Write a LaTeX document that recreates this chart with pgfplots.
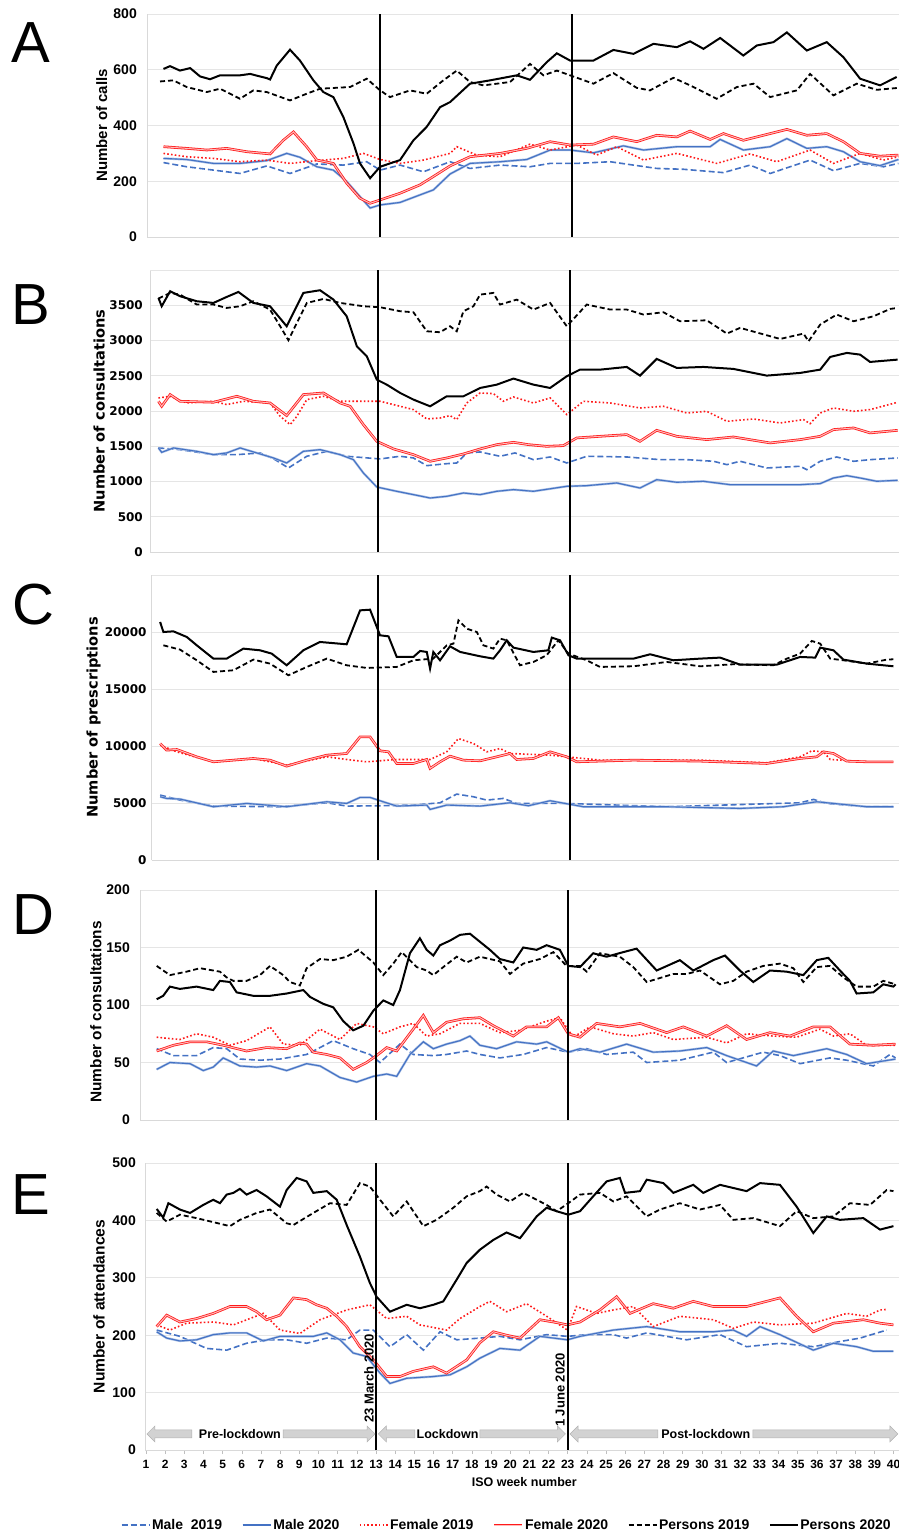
\documentclass[border=0pt]{standalone}
\usepackage{fontspec}
\setmainfont{Liberation Sans}
\newfontfamily\dejavu{DejaVu Sans}
\usepackage{pgfplots}
\pgfplotsset{compat=1.18}
\usetikzlibrary{arrows.meta}
\definecolor{mblue}{HTML}{4472C4}
\definecolor{mred}{HTML}{FF1A1A}
\newcommand{\fs}[1]{\fontsize{#1}{#1}\selectfont}
\tikzset{vl/.style={black, line width=2pt}}
\pgfplotsset{
  panel/.style={
    scale only axis,
    axis x line*=bottom, axis y line*=left,
    axis line style={gray!30, line width=0.8pt},
    ymajorgrids, grid style={gray!20, line width=0.8pt},
    xtick=\empty,
    major tick length=0pt,
    scaled y ticks=false,
    /pgf/number format/assume math mode=true,
    /pgf/number format/1000 sep={},
  },
  m19/.style={mblue, line width=1.6pt, dash pattern=on 6pt off 3pt},
  m20/.style={draw=mblue!45, double=mblue, double distance=1.1pt, line width=0.6pt},
  f19/.style={mred, line width=1.6pt, dash pattern=on 1.6pt off 2.2pt},
  f20/.style={draw=mred, double=mred!30, double distance=1pt, line width=0.8pt},
  p19/.style={black, line width=1.8pt, dash pattern=on 5pt off 3pt},
  p20/.style={black, line width=2pt},
}
\begin{document}
\begin{tikzpicture}
\useasboundingbox (0,0) rectangle (899pt,-1535pt);
% ================= A =================
\begin{axis}[panel, at={(147pt,-14pt)}, anchor=north west, width=752pt, height=223pt,
  xmin=0.84, xmax=40.07, ymin=0, ymax=800, ytick={0,200,...,800},
  yticklabel style={font=\fs{14}\bfseries, anchor=east, inner sep=0pt, xshift=-10pt},
  ylabel={Number of calls}, ylabel style={font=\fs{15}\bfseries, at={(axis description cs:-0.0602,0.5)}, anchor=center}]
\addplot[m19] coordinates {(1.70,267)(2.91,252)(4.30,240)(5.69,228)(7.09,255)(8.30,228)(9.70,262)(11.08,258)(12.30,270)(13.00,240)(14.04,258)(15.26,234)(16.65,270)(17.69,246)(19.26,258)(20.82,252)(21.87,264)(23.26,264)(25.0,270)(27.43,246)(28.82,243)(30.91,231)(32.30,258)(33.35,228)(35.43,276)(36.65,238)(38.04,264)(39.26,252)(40.04,264)};
\addplot[m20] coordinates {(1.70,282)(2.91,278)(4.30,264)(5.69,264)(7.09,274)(8.13,300)(8.82,286)(9.70,252)(10.56,240)(11.26,199)(11.95,145)(12.48,104)(13.00,115)(14.04,124)(15.08,151)(15.78,169)(16.65,226)(17.69,264)(19.26,270)(20.65,278)(21.87,312)(22.91,312)(24.13,302)(25.69,327)(26.74,312)(28.48,324)(30.22,324)(30.74,350)(31.95,312)(33.35,324)(34.22,353)(35.26,318)(36.30,324)(37.17,306)(38.04,270)(39.08,256)(40.04,278)};
\addplot[f19] coordinates {(1.70,300)(2.91,288)(4.30,282)(5.69,270)(7.09,276)(8.30,264)(9.70,274)(11.08,282)(12.13,300)(13.00,278)(14.04,264)(15.26,276)(16.65,300)(17.0,324)(18.04,294)(19.26,288)(20.82,333)(21.87,312)(23.26,330)(24.30,294)(25.35,324)(26.74,276)(28.48,300)(30.56,264)(32.30,298)(33.69,270)(35.43,312)(36.65,264)(38.04,300)(39.26,276)(40.04,288)};
\addplot[f20] coordinates {(1.70,324)(2.91,318)(3.96,312)(5.00,318)(6.04,306)(7.26,298)(7.95,347)(8.48,377)(9.17,324)(9.70,276)(10.56,264)(11.26,193)(11.95,139)(12.48,121)(13.00,133)(14.04,157)(15.08,187)(15.78,217)(16.65,255)(17.69,288)(19.26,300)(20.65,318)(21.87,342)(22.91,330)(24.13,333)(25.17,359)(26.39,342)(27.43,365)(28.48,359)(29.17,380)(30.22,350)(30.91,371)(31.95,347)(33.35,371)(34.22,386)(35.26,365)(36.30,371)(37.17,342)(38.04,300)(39.08,290)(40.04,294)};
\addplot[p19] coordinates {(1.52,558)(2.22,562)(2.91,538)(3.96,520)(4.65,532)(5.69,496)(6.39,526)(7.09,520)(8.30,490)(9.17,514)(9.87,532)(11.43,538)(12.30,568)(13.00,526)(13.52,502)(14.56,526)(15.43,514)(16.30,562)(17.0,597)(17.69,556)(18.39,544)(19.78,556)(20.82,621)(21.52,580)(22.22,597)(22.91,580)(24.13,550)(25.17,588)(26.39,535)(27.08,526)(28.30,571)(29.17,544)(30.56,496)(31.61,538)(32.48,550)(33.35,502)(34.74,526)(35.43,585)(36.65,508)(37.87,550)(38.91,528)(40.04,535)};
\addplot[p20] coordinates {(1.70,603)(2.04,613)(2.56,597)(3.09,606)(3.61,576)(4.13,566)(4.65,580)(5.69,580)(6.22,585)(7.09,570)(7.26,565)(7.61,615)(8.30,672)(8.82,633)(9.52,562)(10.04,520)(10.56,502)(11.08,431)(11.61,336)(11.95,264)(12.48,211)(13.00,252)(13.52,264)(14.04,276)(14.74,347)(15.43,395)(16.13,466)(16.65,484)(17.69,550)(18.74,562)(20.13,580)(20.82,564)(21.69,627)(22.22,659)(22.91,633)(24.13,633)(25.17,671)(26.22,657)(27.26,693)(28.48,681)(29.17,702)(29.87,675)(30.74,714)(31.95,651)(32.65,687)(33.52,699)(34.22,734)(35.26,669)(36.30,699)(37.17,645)(38.04,568)(39.08,544)(39.95,574)};
\draw[vl] (axis cs:13,0) -- (axis cs:13,800);
\draw[vl] (axis cs:23,0) -- (axis cs:23,800);
\end{axis}
% ================= B =================
\begin{axis}[panel, at={(150pt,-270pt)}, anchor=north west, width=749pt, height=282pt,
  xmin=1.1, xmax=40.17, ymin=0, ymax=4000, ytick={0,500,...,3500},
  extra y ticks={4000}, extra y tick labels={},
  yticklabel style={font=\fs{12}\dejavu\bfseries, anchor=east, inner sep=0pt, xshift=-7pt},
  ylabel={Number of consultations}, ylabel style={font=\fs{14.6}\dejavu\bfseries, at={(axis description cs:-0.068,0.5)}, anchor=center}]
\addplot[m19] coordinates {(1.54,1476)(2.67,1452)(4.41,1381)(5.63,1381)(6.84,1405)(7.54,1324)(8.32,1192)(9.28,1358)(10.32,1428)(11.36,1358)(13.10,1320)(14.15,1358)(14.84,1334)(15.54,1225)(16.58,1253)(17.10,1263)(17.62,1405)(18.32,1419)(19.36,1358)(20.14,1405)(21.10,1310)(21.97,1348)(22.84,1263)(23.88,1358)(25.97,1348)(27.71,1310)(29.10,1310)(30.49,1287)(31.19,1239)(31.88,1287)(33.27,1192)(35.01,1216)(35.36,1168)(36.06,1287)(36.92,1348)(37.80,1287)(38.66,1310)(40.1,1334)};
\addplot[m20] coordinates {(1.54,1476)(1.71,1414)(2.32,1476)(3.54,1428)(4.41,1381)(5.10,1405)(5.80,1476)(6.67,1405)(7.54,1334)(8.23,1263)(9.10,1428)(9.97,1452)(11.02,1381)(11.71,1310)(12.23,1121)(12.93,922)(13.97,861)(14.84,814)(15.71,766)(16.58,790)(17.45,837)(18.32,814)(19.19,861)(20.06,885)(21.10,861)(22.84,932)(23.88,941)(25.45,979)(26.66,908)(27.53,1026)(28.58,989)(29.97,1003)(31.36,955)(33.27,955)(35.01,955)(36.06,970)(36.75,1050)(37.45,1083)(38.14,1050)(39.01,1003)(40.1,1017)};
\addplot[f19] coordinates {(1.54,2185)(2.15,2209)(3.02,2114)(4.41,2138)(5.10,2091)(5.97,2138)(7.36,2114)(7.89,1925)(8.41,1807)(8.76,1925)(9.28,2162)(10.15,2209)(11.02,2138)(13.10,2138)(14.15,2067)(14.84,2020)(15.54,1887)(16.23,1901)(16.75,1935)(17.10,1878)(17.62,2114)(18.32,2256)(19.01,2247)(19.53,2138)(20.06,2199)(21.10,2114)(21.97,2185)(22.84,1949)(23.71,2138)(25.10,2114)(26.66,2043)(27.88,2067)(29.10,1972)(30.14,1996)(31.19,1854)(32.58,1887)(33.97,1830)(35.19,1878)(35.53,1821)(36.06,1972)(36.75,2043)(37.80,1996)(38.66,2020)(40.1,2124)};
\addplot[f20] coordinates {(1.54,2138)(1.71,2067)(2.15,2233)(2.67,2138)(4.41,2124)(5.63,2209)(6.49,2138)(7.36,2114)(8.23,1935)(9.10,2233)(10.15,2256)(11.02,2114)(11.54,2067)(12.23,1807)(12.93,1570)(13.80,1462)(14.84,1381)(15.71,1287)(16.58,1334)(17.45,1391)(18.32,1462)(19.19,1523)(20.06,1556)(20.84,1523)(21.79,1499)(22.66,1509)(23.36,1618)(24.58,1641)(25.97,1665)(26.66,1570)(27.53,1726)(28.58,1641)(30.14,1594)(31.53,1632)(33.45,1547)(35.01,1594)(36.06,1641)(36.75,1736)(37.80,1760)(38.66,1689)(40.1,1726)};
\addplot[p19] coordinates {(1.54,3595)(2.15,3675)(2.67,3651)(3.54,3510)(4.41,3510)(5.10,3462)(5.80,3486)(6.49,3557)(7.36,3439)(7.89,3202)(8.32,3004)(8.76,3250)(9.28,3533)(10.15,3590)(11.02,3533)(12.23,3486)(13.10,3472)(14.15,3415)(14.84,3401)(15.54,3131)(16.23,3117)(16.75,3202)(17.10,3131)(17.45,3415)(17.97,3486)(18.32,3651)(19.01,3675)(19.36,3510)(20.23,3580)(21.10,3439)(21.97,3533)(22.84,3202)(23.88,3510)(25.10,3439)(25.97,3439)(26.84,3368)(27.88,3401)(28.75,3273)(30.14,3287)(31.19,3098)(31.88,3179)(33.97,3022)(35.19,3098)(35.45,2989)(36.06,3226)(36.92,3368)(37.80,3273)(38.84,3344)(39.71,3448)(40.1,3462)};
\addplot[p20] coordinates {(1.54,3604)(1.71,3486)(2.15,3699)(2.67,3628)(3.54,3557)(4.41,3533)(5.10,3618)(5.71,3689)(6.49,3533)(7.36,3486)(8.23,3202)(9.10,3675)(9.97,3713)(10.67,3580)(11.36,3344)(11.89,2918)(12.41,2776)(12.93,2445)(13.45,2374)(14.15,2256)(14.84,2162)(15.71,2067)(16.58,2209)(17.45,2209)(18.32,2327)(19.19,2374)(20.06,2460)(21.10,2374)(21.97,2327)(22.84,2493)(23.53,2587)(24.58,2587)(25.97,2625)(26.66,2502)(27.53,2739)(28.58,2611)(29.97,2625)(31.53,2597)(33.27,2502)(35.01,2540)(36.06,2587)(36.58,2767)(37.45,2824)(38.14,2800)(38.66,2696)(40.1,2729)};
\draw[vl] (axis cs:13,0) -- (axis cs:13,4000);
\draw[vl] (axis cs:23,0) -- (axis cs:23,4000);
\end{axis}
% ================= C =================
\begin{axis}[panel, at={(151.7pt,-575pt)}, anchor=north west, width=747.3pt, height=285pt,
  xmin=1.19, xmax=40.17, ymin=0, ymax=25000, ytick={0,5000,...,20000},
  extra y ticks={25000}, extra y tick labels={},
  yticklabel style={font=\fs{12}\dejavu\bfseries, anchor=east, inner sep=0pt, xshift=-5pt},
  ylabel={Number of prescriptions}, ylabel style={font=\fs{14.6}\dejavu\bfseries, at={(axis description cs:-0.0779,0.5)}, anchor=center}]
\addplot[m19] coordinates {(1.63,5694)(2.67,5256)(4.41,4730)(7.89,4672)(10.32,5022)(11.36,4730)(13.10,4760)(14.84,4818)(16.23,5022)(17.10,5782)(17.97,5548)(18.67,5256)(19.53,5402)(20.23,4964)(22.84,4964)(28.06,4672)(35.01,5022)(35.71,5314)(36.40,4964)(38.49,4672)(39.88,4672)};
\addplot[m20] coordinates {(1.63,5548)(1.97,5402)(2.67,5344)(4.41,4672)(6.15,4964)(8.23,4672)(10.32,5110)(11.36,4964)(12.06,5490)(12.58,5490)(13.10,5198)(13.97,4730)(15.54,4818)(15.71,4438)(16.58,4818)(18.32,4730)(19.88,5022)(20.84,4760)(21.97,5198)(23.71,4672)(28.06,4672)(31.88,4526)(34.14,4672)(35.88,5110)(36.75,4964)(38.49,4672)(39.88,4672)};
\addplot[f19] coordinates {(1.63,10074)(2.50,9490)(4.41,8614)(6.49,8906)(8.23,8322)(10.32,9052)(11.36,8818)(12.41,8614)(13.97,8818)(15.71,8818)(16.58,9490)(17.19,10658)(17.97,10220)(18.67,9490)(19.36,9782)(19.88,9344)(21.97,9198)(22.84,9052)(24.58,8760)(29.80,8760)(33.27,8526)(35.01,9052)(35.62,9578)(36.23,9490)(36.58,8818)(38.49,8614)(39.88,8614)};
\addplot[f20] coordinates {(1.63,10220)(1.97,9636)(2.50,9694)(3.54,9052)(4.41,8614)(5.45,8760)(6.49,8906)(7.36,8760)(8.23,8234)(9.28,8760)(10.32,9198)(11.36,9344)(12.06,10804)(12.58,10804)(13.10,9578)(13.54,9490)(13.97,8468)(14.84,8468)(15.54,8818)(15.71,8030)(16.23,8614)(16.75,9110)(17.45,8760)(18.32,8702)(19.19,9052)(19.88,9344)(20.23,8818)(21.10,8906)(21.97,9490)(22.84,9052)(23.36,8614)(26.32,8760)(29.80,8672)(33.27,8468)(35.01,8906)(35.88,9052)(36.23,9490)(36.75,9344)(37.45,8672)(38.49,8614)(39.88,8614)};
\addplot[p19] coordinates {(1.80,18834)(2.67,18454)(3.54,17520)(4.41,16498)(5.45,16644)(6.49,17578)(7.36,17228)(8.32,16206)(9.28,16936)(10.32,17666)(11.36,17082)(12.41,16848)(13.97,16936)(14.84,17520)(15.88,17666)(16.58,18834)(16.93,18980)(17.19,21024)(17.62,20294)(18.15,20000)(18.49,18834)(19.01,18542)(19.36,19418)(19.71,19272)(20.40,17082)(21.10,17374)(21.79,17958)(22.40,19272)(22.93,18104)(23.88,17520)(24.58,16936)(26.32,16994)(28.06,17374)(29.80,16994)(31.53,17170)(33.62,17082)(34.32,17666)(35.01,18104)(35.62,19214)(36.06,18980)(36.58,17666)(37.27,17520)(38.49,17228)(39.53,17578)(39.88,17608)};
\addplot[p20] coordinates {(1.63,20878)(1.80,20000)(2.32,20060)(3.02,19564)(3.54,18834)(4.41,17666)(5.10,17666)(5.97,18542)(6.84,18396)(7.45,18104)(8.23,17082)(9.10,18396)(9.97,19126)(11.36,18922)(12.06,21900)(12.58,21958)(13.10,19710)(13.54,19622)(13.97,17812)(14.84,17812)(15.19,18338)(15.54,18250)(15.71,16790)(15.88,18250)(16.23,17520)(16.75,18746)(17.28,18250)(18.32,17870)(19.01,17666)(19.36,18396)(19.71,19272)(20.06,18630)(21.10,18250)(21.88,18396)(22.06,19506)(22.49,19272)(22.93,17958)(23.36,17666)(26.32,17666)(27.19,18046)(28.40,17520)(29.80,17666)(30.84,17754)(31.88,17140)(33.80,17140)(35.01,17812)(35.80,17754)(36.06,18630)(36.75,18396)(37.27,17578)(38.49,17228)(39.88,16994)};
\draw[vl] (axis cs:13,0) -- (axis cs:13,25000);
\draw[vl] (axis cs:23,0) -- (axis cs:23,25000);
\end{axis}
% ================= D =================
\begin{axis}[panel, at={(140pt,-890pt)}, anchor=north west, width=759pt, height=230pt,
  xmin=0.69, xmax=40.28, ymin=0, ymax=200, ytick={0,50,...,200},
  yticklabel style={font=\fs{14}\bfseries, anchor=east, inner sep=0pt, xshift=-10pt},
  ylabel={Number of consultations}, ylabel style={font=\fs{15.4}\bfseries, at={(axis description cs:-0.058,0.47)}, anchor=center}]
\addplot[m19] coordinates {(1.56,62)(2.43,56)(3.64,56)(4.51,63)(5.21,62)(5.90,53)(6.95,52)(7.99,53)(9.38,57)(10.08,63)(10.77,69)(11.81,62)(12.68,57)(13.21,50)(14.25,66)(14.94,57)(15.99,56)(16.68,57)(17.73,60)(18.42,57)(19.46,54)(20.68,57)(21.90,63)(23.03,59)(23.99,62)(25.03,57)(26.42,59)(27.12,50)(28.85,52)(30.59,59)(31.29,50)(33.20,59)(34.07,56)(35.12,49)(36.68,54)(37.55,52)(38.94,47)(39.81,57)(40.1,54)};
\addplot[m20] coordinates {(1.56,44)(2.25,50)(3.30,49)(3.99,43)(4.51,46)(5.03,54)(5.90,47)(6.77,46)(7.47,47)(8.34,43)(9.38,49)(10.08,47)(11.12,37)(11.99,33)(12.86,38)(13.56,40)(14.08,38)(14.77,57)(15.47,68)(15.99,62)(16.68,66)(17.38,69)(17.90,73)(18.42,65)(19.29,62)(20.33,68)(21.38,66)(21.90,68)(23.03,59)(23.64,62)(24.68,59)(26.07,66)(27.46,59)(28.85,60)(30.25,63)(31.29,56)(32.85,47)(33.72,60)(34.77,56)(36.51,62)(37.55,57)(38.59,49)(40.1,53)};
\addplot[f19] coordinates {(1.56,72)(2.77,70)(3.64,75)(4.51,72)(5.38,65)(6.25,69)(7.47,81)(8.16,66)(9.03,65)(10.08,79)(11.12,70)(11.99,84)(12.86,81)(13.38,75)(14.25,81)(14.94,84)(15.64,73)(16.34,75)(17.38,84)(18.42,84)(19.46,76)(20.51,78)(21.90,86)(22.59,89)(23.29,72)(24.16,81)(25.38,75)(26.42,73)(27.46,76)(28.51,70)(30.25,72)(31.29,67)(32.33,75)(33.72,73)(34.94,72)(36.16,79)(36.86,73)(37.72,75)(38.59,65)(40.1,65)};
\addplot[f20] coordinates {(1.56,60)(2.43,65)(3.30,68)(4.16,68)(5.03,65)(6.25,60)(7.29,63)(8.34,62)(9.03,67)(9.38,66)(9.73,59)(10.43,57)(11.12,54)(11.81,44)(12.51,50)(13.03,56)(13.56,63)(14.08,60)(14.94,79)(15.47,91)(15.99,76)(16.68,85)(17.55,88)(18.42,89)(19.12,82)(20.16,73)(20.85,81)(21.90,81)(22.51,89)(23.03,75)(23.64,72)(24.51,84)(25.72,81)(26.77,84)(28.16,76)(29.03,81)(30.25,73)(31.29,82)(32.33,70)(33.55,76)(34.59,73)(35.81,81)(36.68,81)(37.72,66)(38.94,65)(40.1,66)};
\addplot[p19] coordinates {(1.56,134)(2.25,126)(3.12,129)(3.82,132)(4.86,129)(5.21,124)(5.56,121)(6.25,121)(6.95,126)(7.47,134)(8.16,126)(8.51,120)(9.03,117)(9.38,132)(10.08,140)(10.77,139)(11.47,142)(12.08,148)(12.86,137)(13.38,126)(13.90,136)(14.34,146)(15.12,133)(15.64,130)(15.99,126)(16.51,133)(17.21,142)(17.73,137)(18.42,142)(19.46,138)(19.99,127)(20.68,136)(21.55,140)(22.25,146)(22.94,134)(23.64,134)(23.99,129)(24.68,145)(25.72,142)(26.42,133)(27.12,120)(28.51,127)(29.20,127)(29.90,130)(30.94,118)(31.64,121)(32.33,129)(33.20,134)(34.07,136)(34.77,132)(35.29,120)(35.99,133)(36.68,134)(37.38,124)(38.07,116)(38.94,116)(39.46,121)(40.1,118)};
\addplot[p20] coordinates {(1.56,105)(1.90,108)(2.25,116)(2.77,114)(3.64,116)(4.51,113)(4.86,121)(5.38,120)(5.73,111)(6.60,108)(7.47,108)(8.34,110)(9.21,113)(9.56,107)(10.25,101)(10.77,98)(11.29,86)(11.81,78)(12.34,82)(12.86,95)(13.38,104)(13.90,100)(14.25,113)(14.77,145)(15.29,158)(15.64,148)(15.99,143)(16.34,152)(16.86,156)(17.38,161)(17.90,162)(18.42,155)(18.94,148)(19.46,140)(20.16,137)(20.68,150)(21.38,148)(21.90,152)(22.59,148)(23.03,134)(23.64,133)(24.33,145)(25.03,142)(25.90,146)(26.59,149)(27.64,130)(28.85,139)(29.55,130)(30.59,139)(31.20,143)(31.98,130)(32.68,120)(33.55,130)(34.42,129)(35.29,126)(35.99,139)(36.59,141)(37.20,130)(37.72,121)(38.07,110)(38.94,111)(39.46,118)(39.99,116)(40.1,118)};
\draw[vl] (axis cs:13,0) -- (axis cs:13,200);
\draw[vl] (axis cs:23,0) -- (axis cs:23,200);
\end{axis}
% ================= E =================
\begin{axis}[panel, at={(145pt,-1163pt)}, anchor=north west, width=754pt, height=287pt,
  xmin=0.95, xmax=40.28, ymin=0, ymax=500, ytick={0,100,...,500},
  xtick={1,...,40}, major tick length=4pt, tick align=outside,
  xtick style={gray!50, line width=0.6pt}, ytick style={draw=none},
  xticklabel style={font=\fs{12}\bfseries, inner sep=0pt, yshift=-6pt},
  yticklabel style={font=\fs{14}\bfseries, anchor=east, inner sep=0pt, xshift=-5pt},
  ylabel={Number of attendances}, ylabel style={font=\fs{15.6}\bfseries, at={(axis description cs:-0.061,0.5)}, anchor=center},
  xlabel={ISO week number}, xlabel style={font=\fs{12.5}\bfseries, at={(axis description cs:0.503,-0.1115)}, anchor=center},
  legend style={at={(axis description cs:0.4795,-0.2613)}, anchor=center, draw=none, fill=none,
    font=\fs{14}\bfseries, legend columns=6, nodes={inner xsep=1.5pt},
    /tikz/every even column/.append style={column sep=18pt}},
  legend cell align=left,
  legend image code/.code={\draw[#1] (0pt,0pt) -- (28pt,0pt);}]
\addplot[m19] coordinates {(1.56,209)(2.77,198)(4.16,177)(5.21,174)(6.25,186)(7.29,192)(8.34,192)(9.38,186)(10.43,195)(11.47,192)(12.16,209)(12.86,209)(13.73,180)(14.60,201)(15.47,174)(16.34,206)(17.21,192)(18.42,195)(19.46,198)(20.51,192)(21.90,201)(22.98,198)(23.99,201)(25.38,201)(26.07,195)(27.12,204)(29.20,192)(30.94,201)(32.33,180)(34.07,186)(35.81,180)(37.20,189)(38.25,195)(39.64,209)};
\addlegendentry{Male\ \ 2019}
\addplot[m20] coordinates {(1.56,206)(2.08,195)(2.77,190)(3.64,192)(4.51,201)(5.38,204)(6.25,204)(7.12,190)(7.99,198)(9.03,198)(9.73,198)(10.43,204)(11.12,192)(11.81,169)(12.51,163)(13.21,134)(13.73,116)(14.60,125)(15.99,128)(16.86,131)(17.73,145)(18.42,160)(19.46,177)(20.51,174)(21.55,198)(22.98,192)(23.64,198)(25.38,209)(27.12,215)(28.85,206)(30.59,206)(31.64,209)(32.33,198)(33.03,215)(34.07,201)(35.81,174)(36.86,186)(38.07,180)(38.94,172)(39.99,172)};
\addlegendentry{Male 2020}
\addplot[f19] coordinates {(1.56,218)(2.25,209)(3.12,221)(4.51,223)(5.56,218)(7.12,238)(7.99,209)(9.03,203)(10.08,227)(11.47,244)(12.68,253)(13.56,229)(14.60,233)(15.29,218)(16.68,209)(17.38,229)(18.42,250)(18.94,259)(19.81,241)(20.85,255)(21.90,233)(22.98,209)(23.46,250)(24.51,238)(25.38,244)(26.42,250)(27.46,215)(28.85,233)(30.59,227)(31.64,212)(32.68,223)(34.07,218)(35.81,221)(37.55,238)(38.59,233)(39.29,244)(39.64,245)};
\addlegendentry{Female 2019}
\addplot[f20] coordinates {(1.56,215)(2.08,235)(2.77,223)(3.64,229)(4.51,238)(5.38,250)(6.25,250)(6.77,241)(7.29,227)(7.99,235)(8.69,265)(9.38,262)(9.90,253)(10.43,247)(10.95,233)(11.47,215)(12.16,180)(12.86,157)(13.56,128)(14.25,128)(14.94,137)(15.99,145)(16.68,134)(17.73,157)(18.42,187)(19.12,206)(19.81,200)(20.51,195)(21.55,227)(22.42,222)(22.98,218)(23.64,223)(24.68,244)(25.55,267)(26.25,238)(27.46,255)(28.51,247)(29.55,259)(30.59,250)(32.33,250)(34.07,265)(34.94,233)(35.81,206)(36.86,221)(38.42,227)(39.29,221)(39.99,218)};
\addlegendentry{Female 2020}
\addplot[p19] coordinates {(1.56,413)(2.08,398)(2.77,410)(3.64,404)(5.38,390)(5.90,401)(6.77,413)(7.47,419)(8.34,395)(8.69,392)(9.73,413)(10.60,430)(11.47,427)(12.16,465)(12.68,459)(13.21,436)(13.90,407)(14.60,433)(15.47,390)(16.16,401)(17.03,422)(17.73,442)(18.42,451)(18.77,459)(19.29,445)(19.99,433)(20.68,448)(21.38,436)(21.90,427)(22.42,416)(23.03,430)(23.64,445)(24.68,448)(25.38,433)(26.07,442)(27.12,407)(27.81,419)(28.85,430)(29.90,419)(30.94,427)(31.64,401)(32.68,404)(34.07,390)(34.94,416)(35.81,404)(36.86,407)(37.72,430)(38.77,427)(39.64,453)(39.99,451)};
\addlegendentry{Persons 2019}
\addplot[p20] coordinates {(1.56,420)(1.90,405)(2.17,430)(2.77,419)(3.30,413)(3.99,427)(4.51,436)(4.86,430)(5.21,445)(5.56,448)(5.90,455)(6.25,445)(6.77,453)(7.29,442)(7.99,424)(8.34,453)(8.86,474)(9.38,468)(9.73,448)(10.43,451)(10.95,436)(11.47,392)(12.16,337)(12.68,291)(13.03,267)(13.73,241)(14.60,253)(15.29,247)(15.99,253)(16.51,259)(17.21,297)(17.73,326)(18.42,349)(19.12,366)(19.81,379)(20.51,369)(21.38,407)(21.90,422)(22.42,416)(23.03,410)(23.64,416)(24.33,442)(25.03,468)(25.72,474)(25.99,448)(26.77,451)(27.12,471)(27.99,465)(28.51,448)(29.55,462)(30.07,448)(30.94,462)(32.33,451)(33.03,465)(34.07,462)(34.94,424)(35.81,378)(36.51,407)(37.20,401)(38.42,404)(39.29,384)(39.99,390)};
\addlegendentry{Persons 2020}
\draw[vl] (axis cs:13,0) -- (axis cs:13,500);
\draw[vl] (axis cs:23,0) -- (axis cs:23,500);
% phase arrows
\filldraw[draw=gray!60, fill=gray!35, line width=0.5pt] (axis cs:1.05,28) -- (axis cs:1.47,42) -- (axis cs:1.47,35) -- (axis cs:3.4,35) -- (axis cs:3.4,21) -- (axis cs:1.47,21) -- (axis cs:1.47,14) -- cycle;
\filldraw[draw=gray!60, fill=gray!35, line width=0.5pt] (axis cs:12.95,28) -- (axis cs:12.53,42) -- (axis cs:12.53,35) -- (axis cs:8.15,35) -- (axis cs:8.15,21) -- (axis cs:12.53,21) -- (axis cs:12.53,14) -- cycle;
\filldraw[draw=gray!60, fill=gray!35, line width=0.5pt] (axis cs:13.12,28) -- (axis cs:13.54,42) -- (axis cs:13.54,35) -- (axis cs:15.03,35) -- (axis cs:15.03,21) -- (axis cs:13.54,21) -- (axis cs:13.54,14) -- cycle;
\filldraw[draw=gray!60, fill=gray!35, line width=0.5pt] (axis cs:22.88,28) -- (axis cs:22.46,42) -- (axis cs:22.46,35) -- (axis cs:18.42,35) -- (axis cs:18.42,21) -- (axis cs:22.46,21) -- (axis cs:22.46,14) -- cycle;
\filldraw[draw=gray!60, fill=gray!35, line width=0.5pt] (axis cs:23.12,28) -- (axis cs:23.54,42) -- (axis cs:23.54,35) -- (axis cs:27.7,35) -- (axis cs:27.7,21) -- (axis cs:23.54,21) -- (axis cs:23.54,14) -- cycle;
\filldraw[draw=gray!60, fill=gray!35, line width=0.5pt] (axis cs:40.22,28) -- (axis cs:39.8,42) -- (axis cs:39.8,35) -- (axis cs:32.66,35) -- (axis cs:32.66,21) -- (axis cs:39.8,21) -- (axis cs:39.8,14) -- cycle;
\node[font=\fs{12.5}\bfseries, inner sep=0pt] at (axis cs:5.9,28) {Pre-lockdown};
\node[font=\fs{12.5}\bfseries, inner sep=0pt] at (axis cs:16.73,28) {Lockdown};
\node[font=\fs{12.5}\bfseries, inner sep=0pt] at (axis cs:30.2,28) {Post-lockdown};
\node[rotate=90, anchor=south west, font=\fs{13}\bfseries, inner sep=0pt] at (axis cs:12.89,47) {23 March 2020};
\node[rotate=90, anchor=south west, font=\fs{13}\bfseries, inner sep=0pt] at (axis cs:22.86,40) {1 June 2020};
\end{axis}
% panel letters
\node[font=\fs{58}] at (31pt,-43pt) {A};
\node[font=\fs{58}] at (31pt,-305pt) {B};
\node[font=\fs{58}] at (33pt,-605pt) {C};
\node[font=\fs{58}] at (33pt,-915pt) {D};
\node[font=\fs{58}] at (31pt,-1195pt) {E};
\end{tikzpicture}
\end{document}
